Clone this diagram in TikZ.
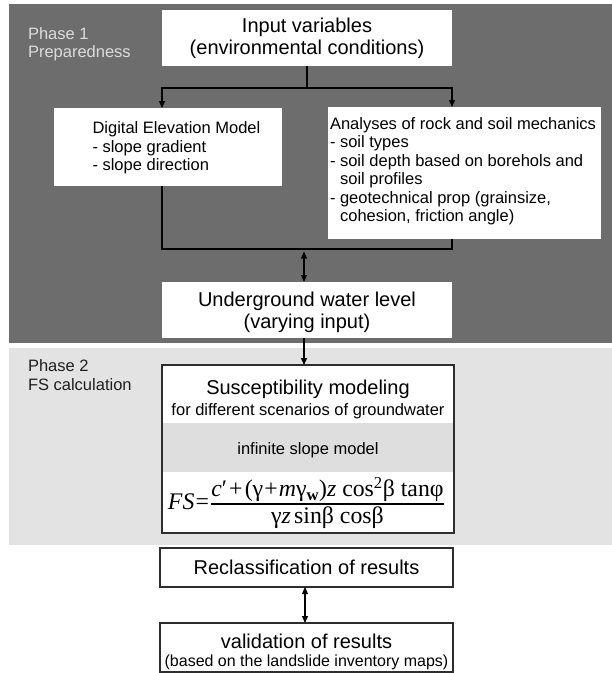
\documentclass[tikz,border=0pt]{standalone}
\usepackage{fontspec}
\setmainfont{Liberation Sans}
\newfontfamily\tmr{Liberation Serif}
\usepackage{graphicx}
\usetikzlibrary{arrows.meta,calc}
\definecolor{darkpanel}{HTML}{6D6D6D}
\definecolor{lightpanel}{HTML}{E3E3E3}
\definecolor{phaseone}{HTML}{DCDCDC}
\definecolor{bandgray}{HTML}{DEDEDE}
\definecolor{boxline}{HTML}{2E2E2E}
\newcommand\fontL{\fontsize{20}{22}\selectfont}
\newcommand\fontM{\fontsize{16.5}{18.5}\selectfont}
\newcommand\fontS{\fontsize{16}{18}\selectfont}
\begin{document}
\begin{tikzpicture}[x=1pt,y=-1pt,
  wbox/.style={fill=white, inner sep=0pt, outer sep=0pt},
  obox/.style={fill=white, draw=boxline, line width=1.8pt, inner sep=0pt, outer sep=0pt},
  txt/.style={inner sep=0pt, outer sep=0pt, text=black},
  conn/.style={line width=1.3pt, draw=black},
  arr/.style={conn, -{Triangle[length=7pt,width=6pt]}},
  darr/.style={conn, {Triangle[length=7pt,width=6pt]}-{Triangle[length=7pt,width=6pt]}}
]
\useasboundingbox (0,0) rectangle (612,673);
\fill[white] (0,0) rectangle (612,673);
% panels
\fill[darkpanel] (9,4) rectangle (612,343);
\fill[lightpanel] (9,348) rectangle (612,545);

% phase labels
\node[txt, text=phaseone, font=\fontM, align=left, anchor=west] (ph1) at (28,44) {Phase 1\\Preparedness};
\node[txt, text=black!88, font=\fontM, align=left, anchor=west] (ph2) at (28,375) {Phase 2\\FS calculation};

% phase 1 boxes
\node[wbox, minimum width=290pt, minimum height=56pt, font=\fontL, align=center] (inp) at (307,38) {Input variables\\(environmental conditions)};
\node[wbox, minimum width=228pt, minimum height=78pt] (dem) at (168,147) {};
\node[txt, font=\fontM, align=left, anchor=west] (demtxt) at (92.5,148) {Digital Elevation Model\\- slope gradient\\- slope direction};
\node[wbox, minimum width=273pt, minimum height=132pt] (ana) at (464.5,173) {};
\node[txt, font=\fontM, align=left, anchor=west] (anatxt) at (330,171) {Analyses of rock and soil mechanics\\- soil types\\- soil depth based on borehols and\\\phantom{- }soil profiles\\- geotechnical prop (grainsize,\\\phantom{- }cohesion, friction angle)};
\node[wbox, minimum width=290pt, minimum height=56pt] (uwl) at (307,310) {};
\node[txt, font=\fontL, align=center] (uwltxt) at (307,312.5) {Underground water level\\(varying input)};

% phase 2 box
\node[obox, minimum width=292pt, minimum height=168pt] (sm) at (308,449) {};
\fill[bandgray] ($(sm.north west)+(1,58)$) rectangle ($(sm.north east)+(-1,107)$);
\node[txt, font=\fontL] (smt1) at (308,389) {Susceptibility modeling};
\node[txt, font=\fontM] (smt2) at (308,411) {for different scenarios of groundwater};
\node[txt, font=\fontM] (smt3) at (308,450) {infinite slope model};
\node[txt] (fs) at (306.5,503) {\resizebox{277pt}{!}{\tmr\fontsize{22}{26}\selectfont
  \textit{FS}\kern1pt=\kern1pt$\textstyle{\hbox{\textit{c}′\kern2pt+\kern2pt(γ\kern1pt+\kern1pt\textit{m}γ\textsubscript{\textbf{w}})\textit{z} cos\textsuperscript{2}β tanφ}\above 1.4pt\hbox{γ\textit{z}\kern3pt sinβ cosβ}}$}};
\draw[boxline, line width=1.8pt] (sm.north west) rectangle (sm.south east);

% lower boxes
\node[obox, minimum width=293pt, minimum height=39pt, font=\fontL] (rec) at (306.5,567.5) {Reclassification of results};
\node[obox, minimum width=293pt, minimum height=49pt] (val) at (306.5,647.5) {};
\node[txt, font=\fontL] (valtxt1) at (306.5,641) {validation of results};
\node[txt, font=\fontS] (valtxt2) at (306.5,662) {(based on the landslide inventory maps)};

% connectors
\draw[conn] (inp.south) -- ++(0,22) coordinate (br);
\draw[arr] (br) -| (dem.north -| inp.west);
\draw[arr] (br) -| (ana.north -| inp.east);
\coordinate (jl) at (162,249);
\coordinate (jr) at (452,249);
\draw[conn] (dem.south -| jl) -- (jl) -- (jr) -- (ana.south -| jr);
\draw[darr, shorten <=2.5pt] (uwl.north |- jl) ++(-3,0) coordinate (dtop) (dtop) -- (dtop |- uwl.north);
\draw[arr] ($(uwl.south)+(-3,0)$) -- ($(sm.north)+(-4,0)$);
\draw[darr] ($(rec.south)+(-1.5,0)$) -- ($(val.north)+(-1.5,0)$);
\end{tikzpicture}
\end{document}
